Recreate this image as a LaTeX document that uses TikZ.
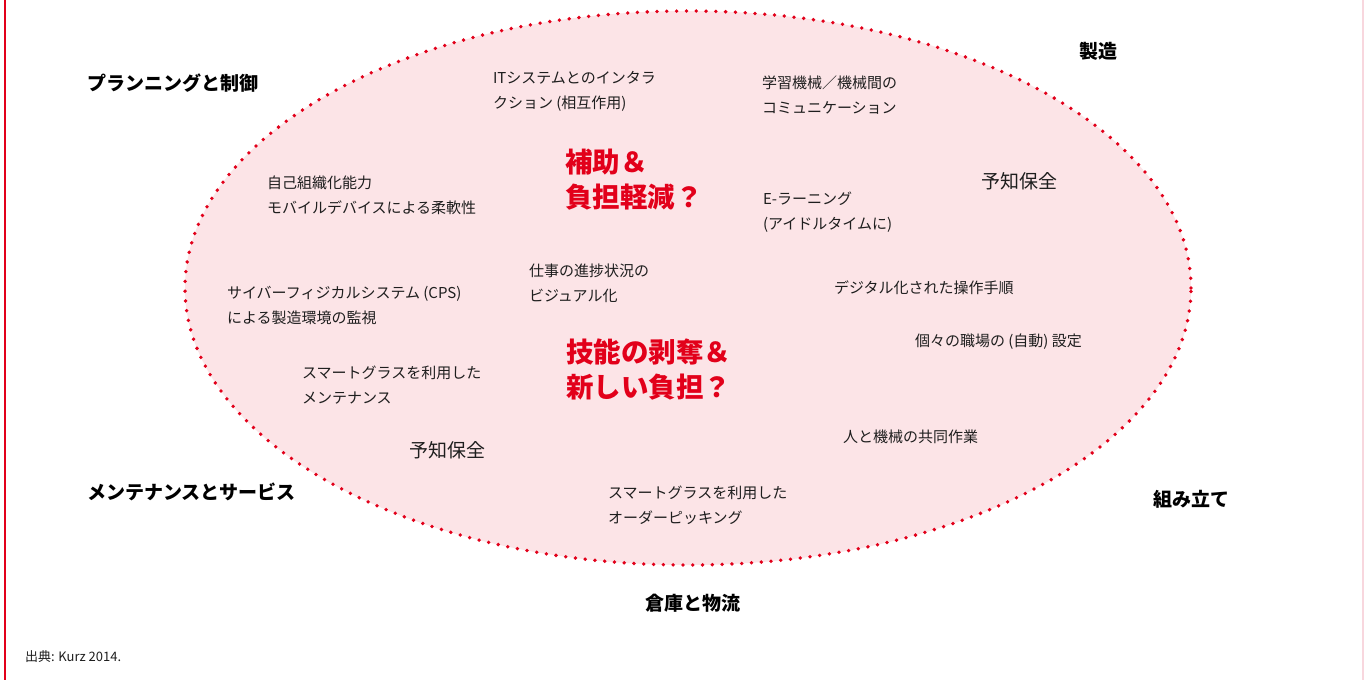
\documentclass[tikz,border=0pt]{standalone}
\usepackage{fontspec}
\setmainfont{Noto Sans CJK JP}
\definecolor{ellred}{RGB}{226,0,26}
\definecolor{pinkfill}{RGB}{252,228,231}
\definecolor{edgepink}{RGB}{248,215,222}
\definecolor{txt}{RGB}{30,30,30}
\tikzset{
  base/.style={inner sep=0pt, outer sep=0pt, anchor=west, align=left, text=txt},
  item/.style={base, font=\fontsize{15}{25}\selectfont},
  itembig/.style={base, font=\fontsize{19}{25}\selectfont},
  head/.style={base, text=black, font=\fontsize{19}{25}\selectfont\bfseries},
  redq/.style={base, text=ellred, font=\fontsize{27.5}{35}\selectfont\bfseries},
  srcnote/.style={base, font=\fontsize{13}{15}\selectfont},
  dots/.style={ellred, line width=3.8pt, line cap=round, dash pattern=on 0pt off 9.8pt}
}
\begin{document}
\begin{tikzpicture}[x=1pt,y=-1pt]
\useasboundingbox (0,0) rectangle (1364,680);
\fill[white] (0,0) rectangle (1364,680);
\draw[ellred, line width=1.5pt] (5,0) -- (5,680);
\draw[edgepink, line width=1.5pt] (1363,0) -- (1363,680);
\fill[pinkfill] (688,288) ellipse [x radius=503pt, y radius=277pt];
\draw[dots] (688,288) ellipse [x radius=503pt, y radius=277pt];
% headings
\node[head] (plan) at (87,83) {プランニングと制御};
\node[head] (seizo) at (1079,51) {製造};
\node[head] (maint) at (87,492) {メンテナンスとサービス};
\node[head] (assem) at (1153,499) {組み立て};
\node[head] (logi) at (645,603) {倉庫と物流};
\node[srcnote] (src) at (25,657) {出典: Kurz 2014.};
% items
\node[item] (it) at (493,91) {ITシステムとのインタラ\\クション (相互作用)};
\node[item] (learn) at (762,95) {学習機械／機械間の\\コミュニケーション};
\node[redq] (assist) at (565,180) {補助＆\\負担軽減？};
\node[itembig] (pm1) at (981,181) {予知保全};
\node[item] (self) at (267,195) {自己組織化能力\\モバイルデバイスによる柔軟性};
\node[item] (elearn) at (763,212) {E-ラーニング\\(アイドルタイムに)};
\node[item] (prog) at (529,283) {仕事の進捗状況の\\ビジュアル化};
\node[item] (digi) at (834,288) {デジタル化された操作手順};
\node[item] (cps) at (227,305) {サイバーフィジカルシステム (CPS)\\による製造環境の監視};
\node[item] (sett) at (915,342) {個々の職場の (自動) 設定};
\node[redq] (deskill) at (566,370) {技能の剥奪＆\\新しい負担？};
\node[item] (sgm) at (302,385) {スマートグラスを利用した\\メンテナンス};
\node[itembig] (pm2) at (409,450) {予知保全};
\node[item] (collab) at (843,437) {人と機械の共同作業};
\node[item] (sgo) at (608,505) {スマートグラスを利用した\\オーダーピッキング};
\end{tikzpicture}
\end{document}
